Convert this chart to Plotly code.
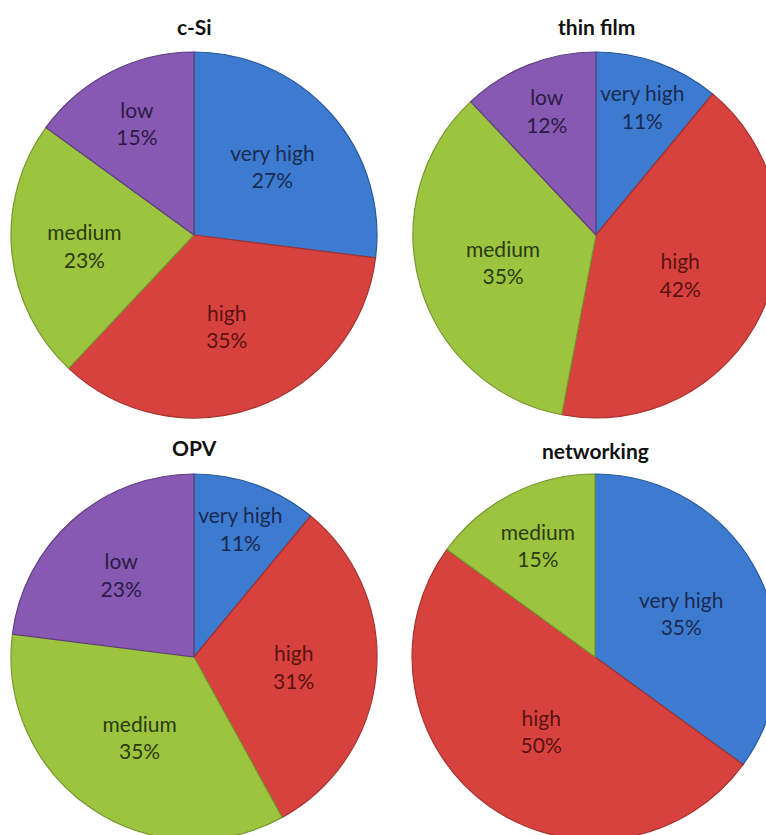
import plotly.graph_objects as go

# Share of each rating level per technology (percent)
csi_labels = ["very high", "high", "medium", "low"]
csi_values = [27, 35, 23, 15]

thin_labels = ["very high", "high", "medium", "low"]
thin_values = [11, 42, 35, 12]

opv_labels = ["very high", "high", "medium", "low"]
opv_values = [11, 31, 35, 23]

net_labels = ["very high", "high", "medium"]
net_values = [35, 50, 15]

panel_titles = ["c-Si", "thin film", "OPV", "networking"]

# Slice fill and matching dark label colours
fill = {"very high": "#3c7bd0", "high": "#d8423e", "medium": "#9dc43f", "low": "#8759b2"}
ink = {"very high": "#1b2b52", "high": "#5a1212", "medium": "#2b3a10", "low": "#2c1b45"}
edge = {"very high": "#2a5a9c", "high": "#a53330", "medium": "#76962e", "low": "#5e3e80"}

W, H = 800, 880
R = 183
centers = [(194, 235), (596, 235), (194, 657), (595, 657)]
title_y = [27, 27, 447, 450]

fig = go.Figure()

data = [(csi_labels, csi_values), (thin_labels, thin_values),
        (opv_labels, opv_values), (net_labels, net_values)]

for (labels, values), (cx, cy) in zip(data, centers):
    fig.add_trace(go.Pie(
        labels=labels,
        values=values,
        sort=False,
        direction="clockwise",
        rotation=0,
        texttemplate="%{label}<br>%{value}%",
        textinfo="text",
        textposition="inside",
        insidetextorientation="horizontal",
        textfont=dict(family="Lato, Carlito, sans-serif", size=21,
                      color=[ink[l] for l in labels]),
        marker=dict(colors=[fill[l] for l in labels],
                    line=dict(color=[edge[l] for l in labels], width=1.2)),
        hoverinfo="label+percent",
        showlegend=False,
        domain=dict(x=[(cx - R) / W, (cx + R) / W],
                    y=[1 - (cy + R) / H, 1 - (cy - R) / H]),
    ))

for name, (cx, _), ty in zip(panel_titles, centers, title_y):
    fig.add_annotation(
        text=f"<b>{name}</b>",
        x=cx / W, y=1 - ty / H, xref="paper", yref="paper",
        xanchor="center", yanchor="middle", showarrow=False,
        font=dict(family="Lato, Carlito, sans-serif", size=21, color="#111111"),
    )

fig.update_layout(
    width=W, height=H,
    margin=dict(l=0, r=0, t=0, b=0),
    paper_bgcolor="white",
    plot_bgcolor="white",
    uniformtext=dict(minsize=21, mode="show"),
)

fig.write_html(
    "out.html",
    post_script=(
        "document.body.style.margin='0';"
        "document.body.style.overflow='hidden';"
        "document.documentElement.style.overflow='hidden';"
    ),
)
